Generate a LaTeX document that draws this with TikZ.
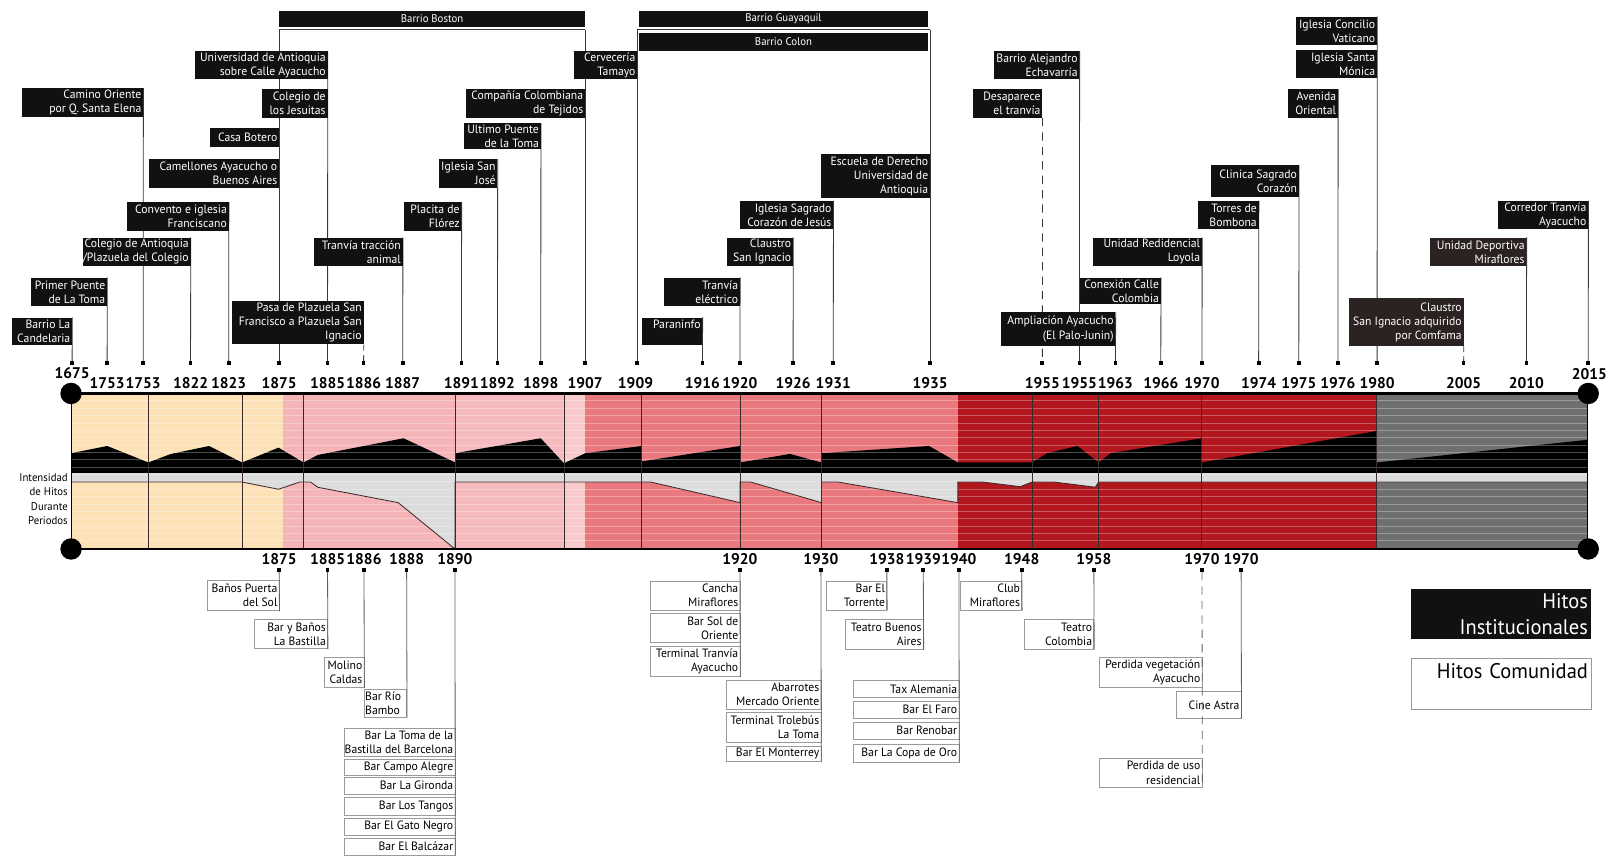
\documentclass[tikz,border=0pt]{standalone}
\usepackage{fontspec}
\setmainfont{PT Sans}
\newfontfamily\labelfont{PT Sans}[FakeStretch=0.97]
\usetikzlibrary{backgrounds}
\definecolor{beige}{HTML}{FCE2B6}
\definecolor{pinkA}{HTML}{F4B4B8}
\definecolor{pinkB}{HTML}{F5BBBE}
\definecolor{pinkC}{HTML}{F7CACB}
\definecolor{salmon}{HTML}{E9797E}
\definecolor{darkred}{HTML}{B3161C}
\definecolor{bandgray}{HTML}{6F6F6F}
\definecolor{stripgray}{HTML}{DCDCDC}
\definecolor{boxblack}{HTML}{111111}
\definecolor{boxbrown}{HTML}{2B2222}
\definecolor{bordergray}{HTML}{9A9A9A}
\definecolor{edgedark}{HTML}{3A2A2A}

\pgfdeclarelayer{paper}
\pgfdeclarelayer{leaders}
\pgfsetlayers{paper,leaders,main}

% black label above the axis: [fill]{name}{x1}{y1}{x2}{y2}{text}
\newcommand\topitem[7][boxblack]{%
  \pgfmathsetmacro\itW{#5-#3}\pgfmathsetmacro\itH{#6-#4}%
  \node[fill=#1, inner sep=0pt, minimum width=\itW pt, minimum height=\itH pt]
    (#2) at ({(#3+#5)/2},{(#4+#6)/2}) {};
  \node[ttext, anchor=east] (#2-t) at ([xshift=-1.8pt]#2.east) {#7};}
% white label below the axis: {name}{x1}{y1}{x2}{y2}{text}
\newcommand\lowitem[6]{%
  \pgfmathsetmacro\itW{#4-#2}\pgfmathsetmacro\itH{#5-#3}%
  \node[lbox, minimum width=\itW pt, minimum height=\itH pt]
    (#1) at ({(#2+#4)/2},{(#3+#5)/2}) {};
  \node[ltext, anchor=east, align=right] (#1-t) at ([xshift=-1.8pt]#1.east) {#6};}
\newcommand\lowitemleft[6]{%
  \pgfmathsetmacro\itW{#4-#2}\pgfmathsetmacro\itH{#5-#3}%
  \node[lbox, minimum width=\itW pt, minimum height=\itH pt]
    (#1) at ({(#2+#4)/2},{(#3+#5)/2}) {};
  \node[ltext, anchor=west, align=left] (#1-t) at ([xshift=1pt]#1.west) {#6};}

\begin{document}
\begin{tikzpicture}[x=1pt,y=-1pt,
  conn/.style={draw=black!78, line width=0.8pt},
  lconn/.style={draw=black!62, line width=0.8pt},
  tickmark/.style={fill=black, inner sep=0pt, minimum size=3.6pt},
  yearlab/.style={font=\fontsize{15}{16}\selectfont\bfseries, inner sep=0pt},
  ttext/.style={text=white, inner sep=0pt, align=right,
    font=\labelfont\fontsize{11.7}{13.6}\selectfont},
  ltext/.style={text=black, inner sep=0pt,
    font=\labelfont\fontsize{11.7}{13.6}\selectfont},
  lbox/.style={fill=white, draw=bordergray, line width=0.7pt, inner sep=0pt},
  barbox/.style={fill=boxblack, text=white, inner sep=0pt,
    font=\labelfont\fontsize{10.8}{12}\selectfont},
  divider/.style={draw=edgedark, line width=0.6pt},
  dot/.style={circle, fill=black, inner sep=0pt, minimum size=20.8pt}]

\useasboundingbox (0,0) rectangle (1568,831);
\begin{pgfonlayer}{paper}
  \fill[white] (0,0) rectangle (1568,831);
\end{pgfonlayer}

% ---- period band ----
\fill[beige]    (69,382)    rectangle (275,533);
\fill[pinkA]    (275,382)   rectangle (442,533);
\fill[pinkB]    (442,382)   rectangle (547.5,533);
\fill[pinkC]    (547.5,382) rectangle (568.3,533);
\fill[salmon]   (568.3,382) rectangle (930,533);
\fill[darkred]  (930,382)   rectangle (1336.7,533);
\fill[bandgray] (1336.7,382) rectangle (1541,533);

% institutional intensity (upper profile)
\fill[black] (69,459) -- (69,440) -- (104,433) -- (144,449) -- (166,440.7) -- (203,433)
  -- (235,449) -- (270.4,434.6) -- (294.7,449) -- (308.6,441.7) -- (391.8,425.5)
  -- (442,449) -- (442,440) -- (525,425.5) -- (547.5,449.8) -- (568.3,440) -- (623,433)
  -- (623,448) -- (718.5,433) -- (718.5,449) -- (767,440.7) -- (797.5,449) -- (797.5,440)
  -- (902,433) -- (930,449) -- (1002,449) -- (1016.6,440) -- (1046,433) -- (1066.7,449)
  -- (1078.3,440) -- (1166.8,425.5) -- (1166.8,449) -- (1336.7,418.4) -- (1336.7,449)
  -- (1541,427) -- (1541,459) -- cycle;

% middle strip
\fill[stripgray] (69,459) rectangle (1541,468);

% community intensity (lower profile)
\def\lowprofile{(69,468) -- (235,468) -- (270.4,475) -- (291,468) -- (301.6,468)
  -- (308.6,473.1) -- (386.6,488) -- (441.7,533) -- (441.7,468) -- (623,468) -- (631.8,468)
  -- (718.5,488) -- (718.5,468) -- (728.9,468) -- (797.5,488) -- (797.5,468) -- (813.8,468)
  -- (930,488) -- (930,468) -- (954.2,468) -- (990.6,472.5) -- (1002,468) -- (1023.5,468)
  -- (1063.4,473) -- (1066.7,468) -- (1541,468)}
\fill[stripgray] \lowprofile -- cycle;

% fine horizontal hatching across the band
\foreach \k in {1,...,20}
  \draw[white, opacity=0.3, line width=0.7pt] (69,{382+7.15*\k}) -- (1541,{382+7.15*\k});

\draw[edgedark, line width=0.8pt] \lowprofile;

% period dividers
\foreach \x in {144,235,294.7,442,547.5,623,718.5,797.5,1002,1066.7,1166.8,1336.7}
  \draw[divider] (\x,382) -- (\x,533);

% frame of the band
\draw[black, line width=0.8pt] (69,382) -- (69,533) (1541,382) -- (1541,533);
\draw[black, line width=2.6pt] (69,382) -- (1541,382);
\draw[black, line width=2.6pt] (69,533) -- (1541,533);
\node[dot] (c1) at (69,382) {};
\node[dot] (c2) at (69,533) {};
\node[dot] (c3) at (1542,382) {};
\node[dot] (c4) at (1542,533) {};

\node[anchor=east, align=right, inner sep=0pt, font=\labelfont\fontsize{10.8}{14}\selectfont]
  (intens) at (66,484.5) {Intensidad\\de Hitos\\Durante\\Periodos};

% ---- upper time axis: ticks and years ----
\foreach \n/\x in {T1675/70, T1753a/104, T1753b/139, T1822/185, T1823/222, T1875/271,
  T1885/318, T1886/353, T1887/391, T1891/448, T1892/483, T1898/525, T1907/568,
  T1909/618.7, T1916/682, T1920/718.4, T1926/770, T1931/809, T1935/903, T1955a/1012,
  T1955b/1048, T1963/1083, T1966/1127, T1970/1167, T1974/1222, T1975/1261, T1976/1299,
  T1980/1337, T2005/1421, T2010/1482, T2015/1542}
  \node[tickmark] (\n) at (\x,352.7) {};

\foreach \n/\x/\t in {Y1753a/104/1753, Y1753b/139/1753, Y1822/185/1822, Y1823/222/1823,
  Y1875/271/1875, Y1885/318/1885, Y1886/353/1886, Y1887/391/1887, Y1891/448/1891,
  Y1892/483/1892, Y1898/525/1898, Y1907/568/1907, Y1909/617/1909, Y1916/682/1916,
  Y1920/718.4/1920, Y1926/770/1926, Y1931/809/1931, Y1935/903/1935, Y1955a/1012/1955,
  Y1955b/1048/1955, Y1963/1083/1963, Y1966/1127/1966, Y1970/1167/1970, Y1974/1222/1974,
  Y1975/1261/1975, Y1976/1299/1976, Y1980/1337/1980, Y2005/1421/2005, Y2010/1482/2010}
  \node[yearlab] (\n) at (\x,371.5) {\t};
\node[yearlab] (Y1675) at (70,362) {1675};
\node[yearlab] (Y2015) at (1543,363) {2015};

% ---- lower time axis ----
\foreach \n/\x in {B1875/271, B1885/318, B1886/353.4, B1888/394.8, B1890/441.7,
  B1920/718.4, B1930/797, B1938/861, B1939/896.4, B1940/931, B1948/992, B1958/1062,
  B1970a/1167, B1970b/1205}
  \node[tickmark] (\n) at (\x,553.4) {};
\foreach \n/\x/\t in {Z1875/271/1875, Z1885/318/1885, Z1886/353.4/1886, Z1888/394.8/1888,
  Z1890/441.7/1890, Z1920/718.4/1920, Z1930/797/1930, Z1938/861/1938, Z1939/896.4/1939,
  Z1940/931/1940, Z1948/992/1948, Z1958/1062/1958, Z1970a/1167/1970, Z1970b/1205/1970}
  \node[yearlab] (\n) at (\x,542.5) {\t};

% ---- institutional milestones ----
\topitem{candelaria}{11.3}{308.4}{70}{335}{Barrio La\\Candelaria}
\topitem{primerpuente}{30.1}{269.6}{104}{297.1}{Primer Puente\\de La Toma}
\topitem{caminoor}{21}{85.7}{139}{113.9}{Camino Oriente\\por Q. Santa Elena}
\topitem{colantioquia}{80.3}{230.7}{185}{258.3}{Colegio de Antioquia\\/Plazuela del Colegio}
\topitem{convento}{123}{196.4}{222}{224}{Convento e iglesia\\Franciscano}
\topitem{camellones}{144.7}{154.7}{271}{182.2}{Camellones Ayacucho o\\Buenos Aires}
\topitem{casabotero}{203.9}{124}{271}{142.4}{Casa Botero}
\topitem{udea}{189.3}{49.5}{318}{77}{Universidad de Antioquia\\sobre Calle Ayacucho}
\topitem{jesuitas}{254}{86.7}{318}{114.3}{Colegio de\\los Jesuitas}
\topitem{pasa}{225}{292.2}{353}{334.3}{Pasa de Plazuela San\\Francisco a Plazuela San\\Ignacio}
\topitem{tranviaanimal}{305.2}{230.7}{391}{258.3}{Tranvía tracción\\animal}
\topitem{placita}{392.2}{196.4}{448}{224}{Placita de\\Flórez}
\topitem{sanjose}{426.2}{154.7}{483}{182.2}{Iglesia San\\José}
\topitem{ultimopuente}{450.8}{119.7}{525}{144.7}{Ultimo Puente\\de la Toma}
\topitem{tejidos}{452.4}{86.7}{568}{114.3}{Compañía Colombiana\\de Tejidos}
\topitem{cerveceria}{557.6}{49.5}{618.7}{77}{Cervecería\\Tamayo}
\topitem{paraninfo}{623.6}{308.4}{682}{335}{Paraninfo\\\mbox{}}
\topitem{tranviaelec}{645}{269.6}{718.4}{297.1}{Tranvía\\eléctrico}
\topitem{claustro}{706.1}{230.7}{770}{258.3}{Claustro\\San Ignacio}
\topitem{sagrado}{718.4}{195.1}{809}{222.6}{Iglesia Sagrado\\Corazón de Jesús}
\topitem{derecho}{796.8}{149.8}{903}{191.9}{Escuela de Derecho\\Universidad de\\Antioquia}
\topitem{alejandro}{965}{49.5}{1048}{77}{Barrio Alejandro\\Echavarría}
\topitem{desaparece}{944.3}{86.7}{1012}{114.3}{Desaparece\\el tranvía}
\topitem{ampliacion}{971.8}{303.2}{1083}{335.6}{Ampliación Ayacucho\\(El Palo-Junin)}
\topitem{conexion}{1048.5}{269.6}{1127}{295.5}{Conexión Calle\\Colombia}
\topitem{loyola}{1061.5}{230.7}{1167}{258.3}{Unidad Redidencial\\Loyola}
\topitem{torres}{1163}{195.1}{1222}{222.6}{Torres de\\Bombona}
\topitem{clinica}{1175.7}{160.2}{1261}{191.6}{Clinica Sagrado\\Corazón}
\topitem{avenida}{1250.8}{86.7}{1299}{114.3}{Avenida\\Oriental}
\topitem{santamonica}{1258.3}{48.5}{1337}{76}{Iglesia Santa\\Mónica}
\topitem{concilio}{1258.3}{16.2}{1337}{43.7}{Iglesia Concilio\\Vaticano}
\topitem[boxbrown]{comfama}{1310}{289.6}{1421}{335.6}{Claustro\\San Ignacio adquirido\\por Comfama}
\topitem[boxbrown]{deportiva}{1388.3}{230.7}{1482}{258.3}{Unidad Deportiva\\Miraflores}
\topitem{corredor}{1454.7}{195.1}{1542}{222.6}{Corredor Tranvía\\Ayacucho}

% neighbourhood bars and their brackets
\node[barbox, minimum width=297pt, minimum height=16.1pt] (boston) at (419.5,18.45) {Barrio Boston};
\node[barbox, minimum width=279.9pt, minimum height=16.1pt] (guayaquil) at (760.65,18.45) {Barrio Guayaquil};
\node[barbox, minimum width=279.9pt, minimum height=16.8pt] (colon) at (760.65,40.8) {Barrio Colon};
\coordinate (brB1) at (271,29);
\coordinate (brB2) at (568,29);
\coordinate (brG1) at (618.7,29);
\coordinate (brG2) at (903,29);

% leader lines, kept behind the labels
\begin{pgfonlayer}{leaders}
\draw[conn] (brB1) -- (brB2);
\draw[conn] (brG1) -- (brG2);
\draw[conn] (brB1) -- (T1875);
\draw[conn] (brB2) -- (T1907);
\draw[conn] (brG1) -- (T1909);
\draw[conn] (brG2) -- (T1935);
\foreach \b/\t in {candelaria/T1675, primerpuente/T1753a, caminoor/T1753b,
  colantioquia/T1822, convento/T1823, udea/T1885, tranviaanimal/T1887, placita/T1891,
  sanjose/T1892, ultimopuente/T1898, paraninfo/T1916, tranviaelec/T1920, claustro/T1926,
  sagrado/T1931, alejandro/T1955b, ampliacion/T1963, conexion/T1966, loyola/T1970,
  torres/T1974, clinica/T1975, avenida/T1976, concilio/T1980, deportiva/T2010,
  corredor/T2015}
  \draw[conn] (\b.north east) -- (\t);
\draw[conn, dash pattern=on 6pt off 4pt] (pasa.south east) -- (T1886);
\draw[conn, dash pattern=on 8pt off 6pt] (desaparece.south east) -- (T1955a);
\draw[conn, dash pattern=on 6pt off 4pt] (comfama.south east) -- (T2005);
\end{pgfonlayer}

% ---- community milestones ----
\lowitem{banos}{201.3}{563.8}{271}{592.9}{Baños Puerta\\del Sol}
\lowitem{bastilla}{246.9}{601.3}{318}{629.8}{Bar y Baños\\La Bastilla}
\lowitem{molino}{314.6}{638.2}{353.4}{667.3}{Molino\\Caldas}
\lowitemleft{bario}{353.7}{669}{394.8}{696.4}{Bar Río\\Bambo}
\lowitem{tomabastilla}{334}{707.1}{441.7}{734.6}{Bar La Toma de la\\Bastilla del Barcelona}
\lowitem{campoalegre}{334}{737.2}{441.7}{752.4}{Bar Campo Alegre}
\lowitem{gironda}{334}{754.7}{441.7}{770.9}{Bar La Gironda}
\lowitem{tangos}{334}{774.4}{441.7}{791.3}{Bar Los Tangos}
\lowitem{gatonegro}{334}{794.5}{441.7}{810.7}{Bar El Gato Negro}
\lowitem{balcazar}{334}{813.9}{441.7}{830.1}{Bar El Balcázar}
\lowitem{cancha}{631.1}{564.1}{718.4}{592.2}{Cancha\\Miraflores}
\lowitem{solori}{631.1}{595.5}{718.4}{623.6}{Bar Sol de\\Oriente}
\lowitem{termtranvia}{631.1}{627.8}{718.4}{657}{Terminal Tranvía\\Ayacucho}
\lowitem{abarrotes}{705.5}{660.2}{797}{688.3}{Abarrotes\\Mercado Oriente}
\lowitem{trolebus}{705.5}{691.9}{797}{720.7}{Terminal Trolebús\\La Toma}
\lowitem{monterrey}{705.5}{724.3}{797}{738.8}{Bar El Monterrey}
\lowitem{torrente}{802}{564.1}{861}{592.2}{Bar El\\Torrente}
\lowitem{buenosaires}{821}{601.3}{896.4}{630.4}{Teatro Buenos\\Aires}
\lowitem{taxalemania}{828.5}{660.8}{931}{677.3}{Tax Alemania}
\lowitem{elfaro}{828.5}{680.6}{931}{697.4}{Bar El Faro}
\lowitem{renobar}{828.5}{701.3}{931}{717.5}{Bar Renobar}
\lowitem{copadeoro}{828.5}{722.7}{931}{740.1}{Bar La Copa de Oro}
\lowitem{club}{932}{564.1}{992}{592.2}{Club\\Miraflores}
\lowitem{teatrocol}{994.5}{601.3}{1062}{630.4}{Teatro\\Colombia}
\lowitem{vegetacion}{1067.2}{638.5}{1167}{667.3}{Perdida vegetación\\Ayacucho}
\lowitem{cineastra}{1142.2}{671.5}{1205}{697.4}{Cine Astra}
\lowitem{usores}{1067.2}{736.2}{1167}{764.4}{Perdida de uso\\residencial}

\foreach \t/\b in {B1875/banos, B1885/bastilla, B1886/molino, B1888/bario,
  B1890/balcazar, B1920/termtranvia, B1930/monterrey, B1938/torrente,
  B1939/buenosaires, B1940/copadeoro, B1948/club, B1958/teatrocol, B1970b/cineastra}
  \draw[lconn] (\t) -- (\b.south east);
\draw[lconn, dash pattern=on 8pt off 6pt] (B1970a) -- (usores.south east);

% ---- legend ----
\node[fill=boxblack, text=white, inner xsep=3pt, inner ysep=0pt, align=right,
  font=\labelfont\fontsize{20.5}{25}\selectfont, minimum width=174.8pt, minimum height=48.5pt,
  text width=168.8pt] (leginst) at (1457.3,596.45) {Hitos\\Institucionales};
\node[fill=white, draw=bordergray, line width=0.7pt, text=black, inner xsep=3pt,
  inner ysep=0pt, align=right, font=\labelfont\fontsize{20.5}{25}\selectfont,
  minimum width=174.8pt, minimum height=49.2pt, text width=168.8pt]
  (legcom) at (1457.3,663.7) {Hitos Comunidad\\\mbox{}};
\end{tikzpicture}
\end{document}
